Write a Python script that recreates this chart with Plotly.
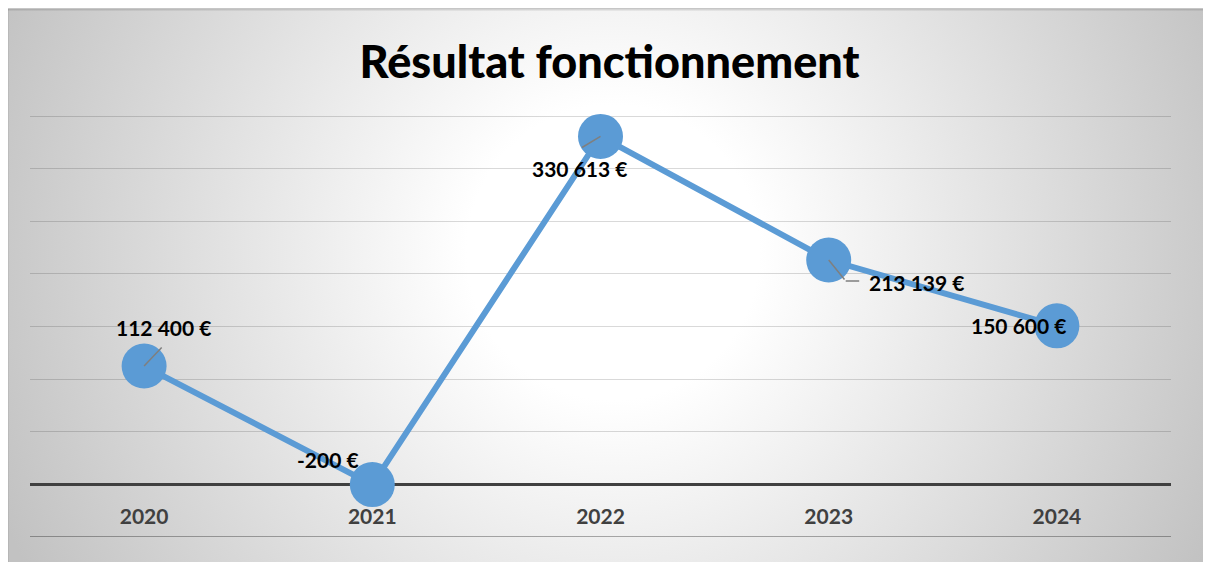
import base64
import plotly.graph_objects as go

# ---- data ----
years = ["2020", "2021", "2022", "2023", "2024"]
resultat = [112400, -200, 330613, 213139, 150600]
title_text = "Résultat fonctionnement"

def fmt_eur(v):
    return f"{v:,}".replace(",", " ") + " €"

labels = [fmt_eur(v) for v in resultat]

# label centre offsets from the point (pixels) and leader-line paths (pixel segments)
label_dx = [19, -44, -21, 88, -38]
label_dy = [-39, -25, 32, 22, 0]
leader_segments = [
    [(0, 0, 19, -20)],
    [],
    [(0, 0, -20, 12)],
    [(0, 0, 17, 21), (17, 21, 32, 21)],
    [],
]

OFF = 8  # default page body margin
W, H = 1203, 554
ML, MR, MT, MB = 22, 40, 106, 25
PW, PH = W - ML - MR, H - MT - MB
Y_MIN = -50000
Y_TOP = Y_MIN + PH * 400000 / 421  # keeps 50 000 per 52.6 px

# radial gradient background (Excel-like)
svg = """<svg xmlns='http://www.w3.org/2000/svg' width='1204' height='552' viewBox='0 0 1204 552' preserveAspectRatio='none'>
<defs><radialGradient id='g' gradientUnits='userSpaceOnUse' cx='602' cy='240' r='660'>
<stop offset='0' stop-color='#ffffff'/><stop offset='0.22' stop-color='#ffffff'/>
<stop offset='1' stop-color='#c2c2c2'/></radialGradient></defs>
<rect x='0' y='0' width='1204' height='552' fill='url(#g)'/>
<line x1='0' y1='0.75' x2='1204' y2='0.75' stroke='rgba(0,0,0,0.12)' stroke-width='1.5'/>
<line x1='0.75' y1='0' x2='0.75' y2='552' stroke='rgba(0,0,0,0.12)' stroke-width='1.5'/>
</svg>"""
bg_src = "data:image/svg+xml;base64," + base64.b64encode(svg.encode()).decode()

def px_x(p):  # page pixel -> paper fraction
    return (p - OFF - ML) / PW

def px_y(p):
    return (OFF + H - MB - p) / PH

fig = go.Figure()
fig.add_trace(go.Scatter(
    x=years, y=resultat, mode="lines+markers",
    line=dict(color="#5B9BD5", width=6),
    marker=dict(size=45, color="#5B9BD5", line=dict(width=0)),
    cliponaxis=False, hoverinfo="skip", showlegend=False,
))

annotations = []
for i, (v, lab, dx, dy, segs) in enumerate(zip(resultat, labels, label_dx, label_dy, leader_segments)):
    # leader lines (arrow without head, from tail (x1,y1) to head (x0,y0))
    for (x0, y0, x1, y1) in segs:
        annotations.append(dict(
            x=i, y=v, xref="x", yref="y", text="", showarrow=True,
            xshift=x0, yshift=-y0, ax=x1 - x0, ay=y1 - y0,
            arrowhead=0, arrowwidth=1.5, arrowcolor="#7f7f7f", standoff=0,
        ))
    annotations.append(dict(
        x=i, y=v, xref="x", yref="y", text="<b>" + lab + "</b>",
        showarrow=False, xshift=dx, yshift=-dy,
        font=dict(family="Lato", size=21, color="#000000"),
    ))

fig.update_layout(
    width=W, height=H,
    margin=dict(l=ML, r=MR, t=MT, b=MB, pad=0),
    paper_bgcolor="#c6c6c6", plot_bgcolor="rgba(0,0,0,0)",
    title=dict(text=title_text, x=0.5, xanchor="center",
               y=1 - (62 - OFF) / H, yanchor="middle", yref="container",
               font=dict(family="Lato", size=45, color="#000000", weight=900)),
    images=[dict(source=bg_src, xref="paper", yref="paper",
                 x=px_x(7), y=px_y(9), sizex=1212 / PW, sizey=560 / PH,
                 xanchor="left", yanchor="top", sizing="stretch", layer="below")],
    xaxis=dict(type="category", range=[-0.5, 4.5], showgrid=False, showline=False,
               zeroline=False, anchor="free", position=px_y(484),
               ticks="outside", ticklen=14, tickcolor="rgba(0,0,0,0)",
               tickfont=dict(family="Lato", size=21, color="#404040"),
               tickprefix="<b>", ticksuffix="</b>"),
    yaxis=dict(range=[Y_MIN, Y_TOP], dtick=50000, tick0=0, showticklabels=False,
               showgrid=True, gridcolor="rgba(0,0,0,0.15)", gridwidth=1,
               zeroline=True, zerolinecolor="#404040", zerolinewidth=3,
               showline=False, ticks=""),
    shapes=[dict(type="line", xref="paper", yref="y", x0=0, x1=1, y0=Y_MIN, y1=Y_MIN,
                 line=dict(color="rgba(0,0,0,0.42)", width=1.5), layer="below")],
    annotations=annotations,
)

fig.write_html("out.html")
